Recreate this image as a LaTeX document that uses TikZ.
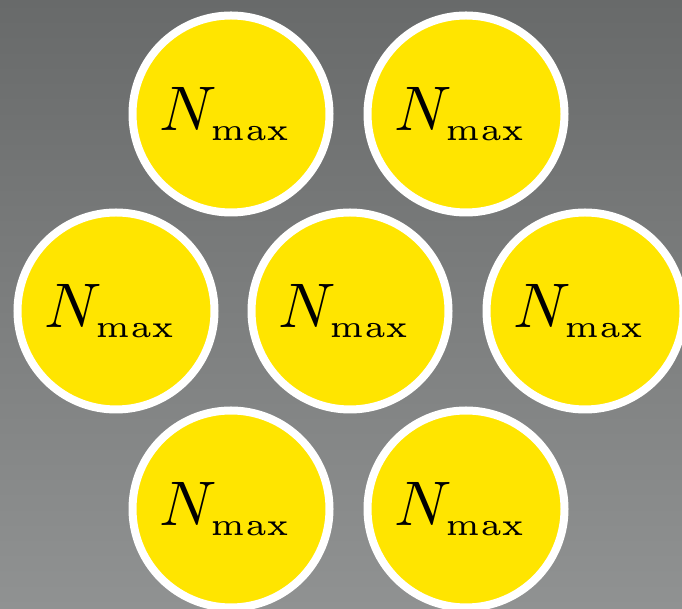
\documentclass[tikz,border=0pt]{standalone}
\usepackage{graphicx}
\definecolor{bgtop}{HTML}{686A6A}
\definecolor{bgbot}{HTML}{909292}
\definecolor{ball}{HTML}{FFE500}
\newcommand{\nmaxlabel}{\hbox{\kern-5pt\scalebox{6.3}{$N_{\scriptscriptstyle\max}$}\kern5pt}}
\begin{document}
\begin{tikzpicture}[x=1pt,y=1pt,
  ballstyle/.style={circle, draw=white, line width=8pt, fill=ball,
    minimum size=197pt, inner sep=0pt}]
\useasboundingbox (0,0) rectangle (682,609);
\clip (0,0) rectangle (682,609);
\shade[top color=bgtop, bottom color=bgbot] (0,0) rectangle (682,609);
\node[ballstyle] (a1) at (231,495) {\nmaxlabel};
\node[ballstyle] (a2) at (466,495) {\nmaxlabel};
\node[ballstyle] (b1) at (116,298) {\nmaxlabel};
\node[ballstyle] (b2) at (350,298) {\nmaxlabel};
\node[ballstyle] (b3) at (585,298) {\nmaxlabel};
\node[ballstyle] (c1) at (231,100) {\nmaxlabel};
\node[ballstyle] (c2) at (466,100) {\nmaxlabel};
\end{tikzpicture}
\end{document}
